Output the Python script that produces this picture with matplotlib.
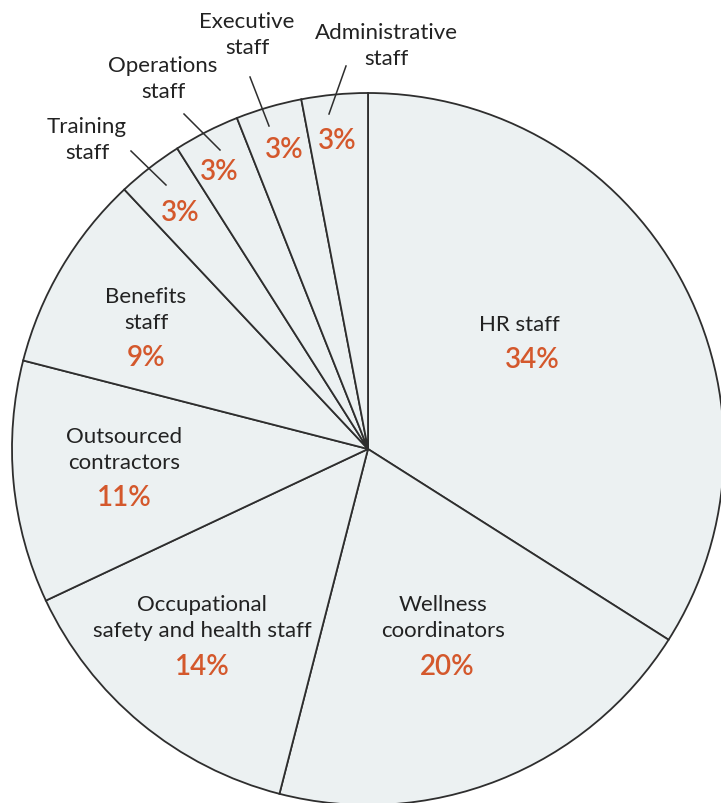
import matplotlib.pyplot as plt

groups = ['HR staff', 'Wellness\ncoordinators', 'Occupational\nsafety and health staff',
          'Outsourced\ncontractors', 'Benefits\nstaff', 'Training\nstaff',
          'Operations\nstaff', 'Executive\nstaff', 'Administrative\nstaff']
shares = [34, 20, 14, 11, 9, 3, 3, 3, 3]

# label placement in pixel coords (x, y from top): name, percentage
name_pos = [(519, 325), (443, 618), (202, 618), (124, 450), (146, 310),
            (87, 140), (163, 79), (247, 35), (386, 46)]
pct_pos = [(532, 360), (447, 667), (202, 667), (124, 498), (146, 358),
           (180, 213), (219, 172), (284, 150), (337, 141)]
# leader lines for the thin slices
leaders = {5: ((131, 152), (166, 186)), 6: ((184, 115), (220, 151)),
           7: ((250, 78), (269, 127)), 8: ((346, 67), (329, 115))}

W, H = 721, 804
fig = plt.figure(figsize=(W/100, H/100), dpi=100)
ax = fig.add_axes([0, 0, 1, 1])

ax.pie(shares, startangle=90, counterclock=False, center=(368, H-450), radius=356,
       colors=['#ecf1f2']*len(shares),
       wedgeprops=dict(edgecolor='#2e2e2e', linewidth=1.3), frame=True)
ax.set_xlim(0, W)
ax.set_ylim(0, H)
ax.axis('off')

font = ['Lato', 'DejaVu Sans']
for i, g in enumerate(groups):
    nx, ny = name_pos[i]
    px, py = pct_pos[i]
    ax.text(nx, H-ny, g, ha='center', va='center', fontsize=16, color='#222222',
            family=font, linespacing=1.4)
    ax.text(px, H-py, f'{shares[i]}%', ha='center', va='center', fontsize=20,
            color='#d4582c', family=font, fontweight='semibold')
    if i in leaders:
        (x0, y0), (x1, y1) = leaders[i]
        ax.plot([x0, x1], [H-y0, H-y1], color='#2e2e2e', linewidth=1.1)

fig.savefig('out.png', dpi=100, facecolor='white')
